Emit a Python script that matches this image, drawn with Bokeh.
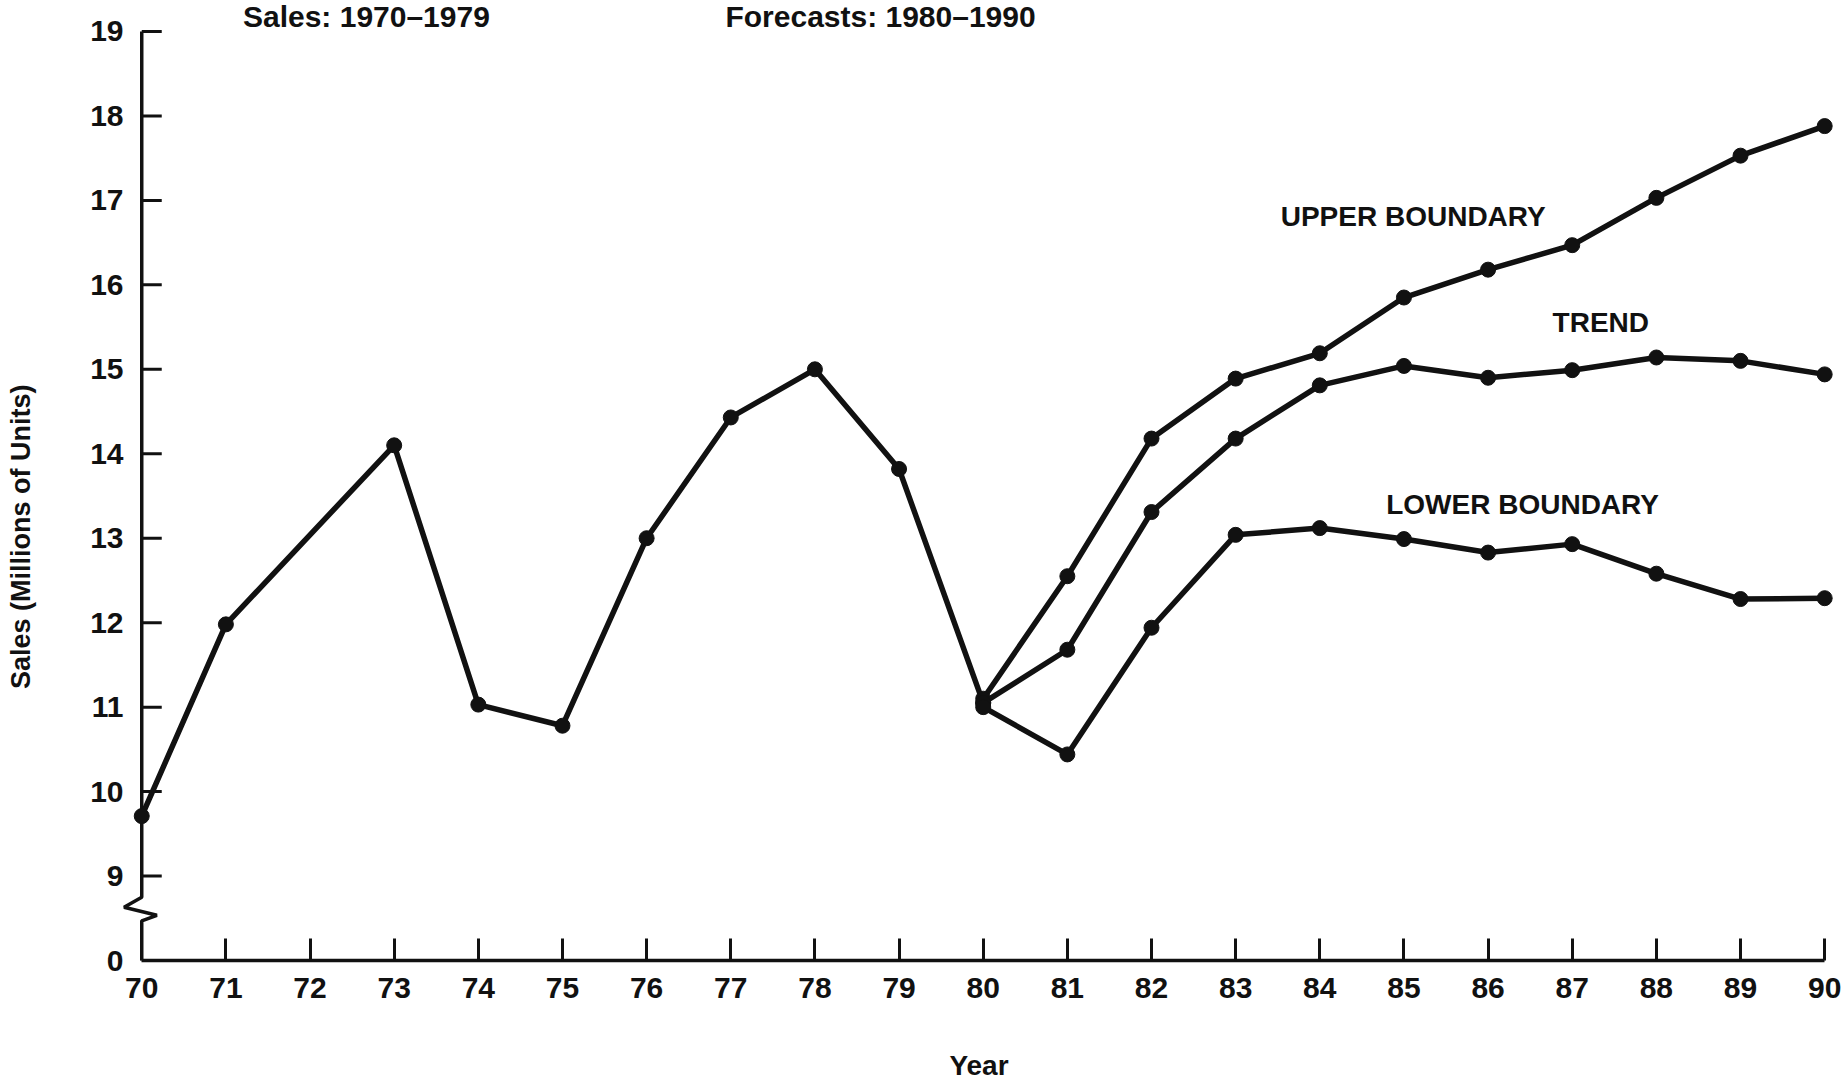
from bokeh.plotting import figure
from bokeh.models import Range1d, FixedTicker
from bokeh.core.properties import value
from bokeh.embed import file_html
from bokeh.resources import INLINE

# ---------------- data ----------------
sales_years = [70, 71, 73, 74, 75, 76, 77, 78, 79, 80]
sales_values = [9.71, 11.98, 14.1, 11.03, 10.78, 13.0, 14.43, 15.0, 13.82, 11.05]

forecast_years = [80, 81, 82, 83, 84, 85, 86, 87, 88, 89, 90]
upper_boundary = [11.1, 12.55, 14.18, 14.89, 15.19, 15.85, 16.18, 16.47, 17.03, 17.53, 17.88]
trend = [11.05, 11.68, 13.31, 14.18, 14.81, 15.04, 14.9, 14.99, 15.14, 15.1, 14.94]
lower_boundary = [11.0, 10.44, 11.94, 13.04, 13.12, 12.99, 12.83, 12.93, 12.58, 12.28, 12.29]

x_ticks = list(range(70, 91))
x_tick_labels = {t: str(t) for t in x_ticks}
# the axis is broken between 9 and 0: "0" sits one step below 9
y_ticks = [8, 9, 10, 11, 12, 13, 14, 15, 16, 17, 18, 19]
y_tick_labels = {8: "0", 9: "9", 10: "10", 11: "11", 12: "12", 13: "13", 14: "14",
                 15: "15", 16: "16", 17: "17", 18: "18", 19: "19"}

x_title = "Year"
y_title = "Sales (Millions of Units)"
series_labels = ["UPPER BOUNDARY", "TREND", "LOWER BOUNDARY"]
period_labels = ["Sales: 1970\u20131979", "Forecasts: 1980\u20131990"]

# axis-break (zig-zag) decoration on the y axis line
break_x = [70, 70, 69.79, 70.18, 70, 70]
break_y = [19, 8.75, 8.63, 8.535, 8.47, 8]

FONT = "Liberation Sans"
BLACK = "#111111"

p = figure(width=1844, height=1083,
           x_range=Range1d(69.7, 90.2), y_range=Range1d(8, 19.367),
           output_backend="svg", toolbar_location=None,
           min_border_left=116, min_border_right=3,
           min_border_top=0, min_border_bottom=123)
p.outline_line_color = None
p.xgrid.visible = False
p.ygrid.visible = False
p.background_fill_color = "white"
p.border_fill_color = "white"

# x axis
xa = p.xaxis[0]
xa.ticker = FixedTicker(ticks=x_ticks)
xa.major_label_overrides = x_tick_labels
xa.bounds = (70, 90)
xa.axis_line_width = 3.5
xa.axis_line_color = BLACK
xa.major_tick_in = 22
xa.major_tick_out = 0
xa.major_tick_line_width = 3
xa.major_tick_line_color = BLACK
xa.minor_tick_line_color = None
xa.major_label_text_font = FONT
xa.major_label_text_font_style = "bold"
xa.major_label_text_font_size = "30px"
xa.major_label_text_color = BLACK
xa.major_label_standoff = 17
xa.axis_label = x_title
xa.axis_label_text_font = FONT
xa.axis_label_text_font_style = "bold"
xa.axis_label_text_font_size = "28px"
xa.axis_label_text_color = BLACK
xa.axis_label_standoff = 49

# y axis (labels only; its line and ticks are drawn at x = 70 below)
ya = p.yaxis[0]
ya.ticker = FixedTicker(ticks=y_ticks)
ya.major_label_overrides = y_tick_labels
ya.axis_line_color = None
ya.major_tick_line_color = None
ya.major_tick_out = 0
ya.major_tick_in = 0
ya.minor_tick_line_color = None
ya.major_label_text_font = FONT
ya.major_label_text_font_style = "bold"
ya.major_label_text_font_size = "30px"
ya.major_label_text_color = BLACK
ya.major_label_standoff = -7
# trailing no-break spaces push the centred title down, as in the reference
ya.axis_label = y_title + "\u00a0" * 15
ya.axis_label_text_font = FONT
ya.axis_label_text_font_style = "bold"
ya.axis_label_text_font_size = "27px"
ya.axis_label_text_color = BLACK
ya.axis_label_standoff = 51

# y axis line with break, and its inward ticks
p.line(break_x, break_y, line_color=BLACK, line_width=3.5)
p.ray(x=[70] * (len(y_ticks) - 1), y=y_ticks[1:], length=20, length_units="screen",
      angle=0, line_color=BLACK, line_width=3)

# series
LW = 5.5
MS = 15
p.line(sales_years, sales_values, line_color=BLACK, line_width=LW, line_join="round")
p.scatter(sales_years, sales_values, size=MS, color=BLACK)
for ys in (upper_boundary, trend, lower_boundary):
    p.line(forecast_years, ys, line_color=BLACK, line_width=LW, line_join="round")
    p.scatter(forecast_years, ys, size=MS, color=BLACK)

# labels
p.text(x=[85.11, 87.34, 86.41], y=[16.815, 15.56, 13.40], text=series_labels,
       text_font=value(FONT), text_font_style="bold", text_font_size="28px",
       text_color=BLACK, text_align="center", text_baseline="middle")
p.text(x=[72.67, 78.78], y=[19.178, 19.178], text=period_labels,
       text_font=value(FONT), text_font_style="bold", text_font_size="30px",
       text_color=BLACK, text_align="center", text_baseline="middle")

open("out.html", "w").write(file_html(p, INLINE))
